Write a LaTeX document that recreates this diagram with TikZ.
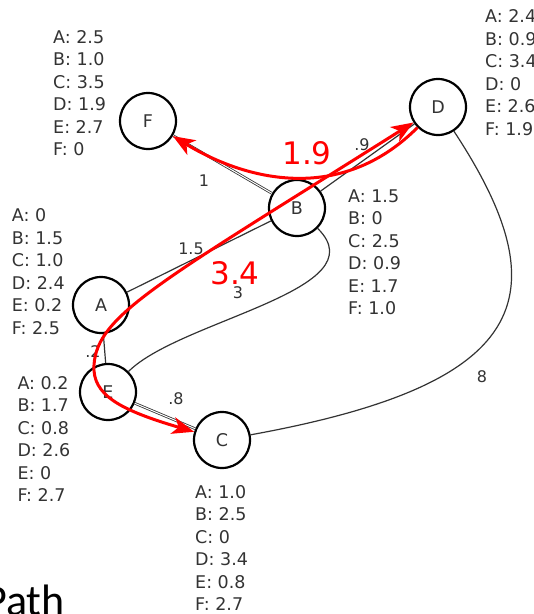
\documentclass[tikz,border=0pt]{standalone}
\usepackage{fontspec}
\setmainfont{DejaVu Sans}
\newfontfamily\titlefont{Carlito}
\usetikzlibrary{arrows.meta}
\definecolor{ink}{RGB}{51,51,51}
\definecolor{routeR}{RGB}{255,0,0}
\tikzset{
  vertex/.style={
    circle,
    draw=black,
    line width=2.2pt,
    fill=white,
    minimum size=56pt,
    inner sep=0pt,
    text=ink,
    font=\fontsize{17.5}{21}\selectfont
  },
  dist/.style={
    anchor=north west,
    inner sep=0pt,
    align=left,
    text=ink,
    font=\fontsize{17.5}{22.5}\selectfont
  },
  weight/.style={inner sep=0pt, text=ink, font=\fontsize{16}{18}\selectfont},
  edge/.style={draw=ink, line width=1.2pt},
  twin/.style={draw=ink, line width=0.8pt, double=white, double distance=1pt},
  route/.style={draw=routeR, line width=3pt},
  bigtip/.tip={Stealth[length=22pt,width=17pt,inset=6pt]},
  routelabel/.style={inner sep=0pt, text=routeR, font=\fontsize{31}{34}\selectfont},
}

\begin{document}
\begin{tikzpicture}[x=1pt,y=-1pt]

\useasboundingbox (0,0) rectangle (534,614);
\clip (0,0) rectangle (534,614);

\node[vertex] (F) at (148,121) {F};
\node[vertex] (D) at (438,107) {D};
\node[vertex] (B) at (297,208) {B};
\node[vertex] (A) at (101,305) {A};
\node[vertex] (E) at (108,392) {E};
\node[vertex] (C) at (222,440) {C};

\node[dist] (distF) at (53,30) {A: 2.5\\B: 1.0\\C: 3.5\\D: 1.9\\E: 2.7\\F: 0};
\node[dist] (distD) at (485,9.5) {A: 2.4\\B: 0.9\\C: 3.4\\D: 0\\E: 2.6\\F: 1.9};
\node[dist] (distB) at (348,189.5) {A: 1.5\\B: 0\\C: 2.5\\D: 0.9\\E: 1.7\\F: 1.0};
\node[dist] (distA) at (11.7,208.5) {A: 0\\B: 1.5\\C: 1.0\\D: 2.4\\E: 0.2\\F: 2.5};
\node[dist] (distE) at (17.3,376) {A: 0.2\\B: 1.7\\C: 0.8\\D: 2.6\\E: 0\\F: 2.7};
\node[dist] (distC) at (195,485) {A: 1.0\\B: 2.5\\C: 0\\D: 3.4\\E: 0.8\\F: 2.7};

\draw[twin] (F) -- (B);
\draw[edge] (A) -- (B);
\draw[edge] (B) -- (D);
\draw[edge] (A) -- (E);
\draw[twin] (E) -- (C);
\draw[edge] (E) .. controls (180,320) and (380,290) .. (B);
\draw[edge] (D) .. controls (565,300) and (525,385) .. (C);

\node[weight] (wFB) at (204,181) {1};
\node[weight] (wAB) at (191,249) {1.5};
\node[weight] (wEB) at (238,293) {3};
\node[weight] (wAE) at (93,352) {.2};
\node[weight] (wEC) at (176,399) {.8};
\node[weight] (wDC) at (482,377) {8};
\node[weight] (wBD) at (362,145) {.9};

\coordinate (bendE) at (94,365);
\draw[route, -{bigtip}] (D) .. controls (340,205) and (245,180) .. (F);
\draw[route, {bigtip}-{bigtip}] (C) .. controls (120,410) and (92,395) .. (bendE)
  .. controls (97,315) and (160,282) .. (D);

\node[routelabel] (lenFD) at (307,153) {1.9};
\node[routelabel] (lenCD) at (235,273) {3.4};

\node[anchor=base west, inner sep=0pt, font=\titlefont\fontsize{44}{48}\selectfont] (title) at (-16,615) {Path};

\end{tikzpicture}
\end{document}
